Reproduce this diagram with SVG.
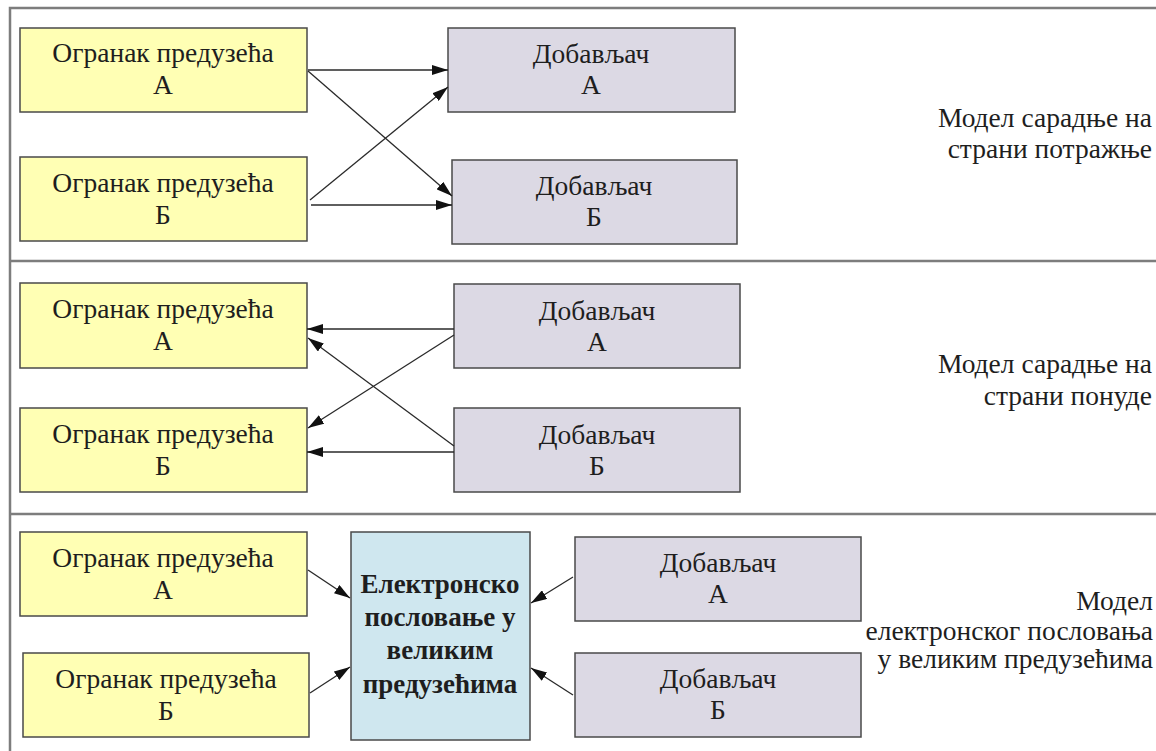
<svg xmlns="http://www.w3.org/2000/svg" width="1156" height="751" viewBox="0 0 1156 751">
  <style>
    .frame { fill: none; stroke: #7d7d7d; stroke-width: 2.5; }
    .box { stroke: #4a4a4a; stroke-width: 1.5; }
    .branch { fill: #ffffb4; }
    .supplier { fill: #dcd9e4; }
    .hub { fill: #cfe7ef; }
    text { font-family: "Liberation Serif", "Times New Roman", serif; font-size: 27.5px; fill: #1e1e1e; }
    .c { text-anchor: middle; }
    .r { text-anchor: end; }
    .b { font-weight: bold; font-size: 27px; }
    .conn line { stroke: #2a2a2a; stroke-width: 1.3; marker-end: url(#arrow); }
  </style>
  <defs>
    <marker id="arrow" viewBox="0 0 16 10" refX="16" refY="5" markerWidth="16" markerHeight="10" markerUnits="userSpaceOnUse" orient="auto">
      <path d="M0,0 L16,5 L0,10 Z" fill="#111"/>
    </marker>
  </defs>

  <rect width="1156" height="751" fill="#ffffff"/>

  <!-- outer frame and section dividers -->
  <g id="frame">
    <polyline class="frame" points="10,760 10,8 1160,8"/>
    <line class="frame" x1="10" y1="261" x2="1160" y2="261"/>
    <line class="frame" x1="10" y1="514" x2="1160" y2="514"/>
  </g>

  <!-- section 1: demand side -->
  <g id="s1-branch-a">
    <rect class="box branch" x="20" y="28" width="287" height="84"/>
    <text class="c" x="163" y="62">Огранак предузећа</text>
    <text class="c" x="163" y="94">А</text>
  </g>
  <g id="s1-branch-b">
    <rect class="box branch" x="20" y="157" width="287" height="84"/>
    <text class="c" x="163" y="192">Огранак предузећа</text>
    <text class="c" x="163" y="224">Б</text>
  </g>
  <g id="s1-supplier-a">
    <rect class="box supplier" x="448" y="28" width="287" height="84"/>
    <text class="c" x="591" y="63">Добављач</text>
    <text class="c" x="591" y="94">А</text>
  </g>
  <g id="s1-supplier-b">
    <rect class="box supplier" x="452" y="160" width="285" height="84"/>
    <text class="c" x="594" y="195">Добављач</text>
    <text class="c" x="594" y="226">Б</text>
  </g>
  <g id="s1-label">
    <text class="r" x="1152" y="127">Модел сарадње на</text>
    <text class="r" x="1152" y="158">страни потражње</text>
  </g>

  <!-- section 2: supply side -->
  <g id="s2-branch-a">
    <rect class="box branch" x="20" y="283" width="287" height="85"/>
    <text class="c" x="163" y="318">Огранак предузећа</text>
    <text class="c" x="163" y="350">А</text>
  </g>
  <g id="s2-branch-b">
    <rect class="box branch" x="20" y="408" width="287" height="84"/>
    <text class="c" x="163" y="443">Огранак предузећа</text>
    <text class="c" x="163" y="475">Б</text>
  </g>
  <g id="s2-supplier-a">
    <rect class="box supplier" x="454" y="284" width="286" height="84"/>
    <text class="c" x="597" y="320">Добављач</text>
    <text class="c" x="597" y="351">А</text>
  </g>
  <g id="s2-supplier-b">
    <rect class="box supplier" x="454" y="408" width="286" height="84"/>
    <text class="c" x="597" y="444">Добављач</text>
    <text class="c" x="597" y="475">Б</text>
  </g>
  <g id="s2-label">
    <text class="r" x="1152" y="373">Модел сарадње на</text>
    <text class="r" x="1152" y="405">страни понуде</text>
  </g>

  <!-- section 3: e-business hub -->
  <g id="s3-branch-a">
    <rect class="box branch" x="20" y="532" width="287" height="84"/>
    <text class="c" x="163" y="567">Огранак предузећа</text>
    <text class="c" x="163" y="599">А</text>
  </g>
  <g id="s3-branch-b">
    <rect class="box branch" x="23" y="653" width="286" height="84"/>
    <text class="c" x="166" y="688">Огранак предузећа</text>
    <text class="c" x="166" y="720">Б</text>
  </g>
  <g id="s3-hub">
    <rect class="box hub" x="351" y="532" width="179" height="208"/>
    <text class="c b" x="440" y="593">Електронско</text>
    <text class="c b" x="440" y="626">пословање у</text>
    <text class="c b" x="440" y="659">великим</text>
    <text class="c b" x="440" y="693">предузећима</text>
  </g>
  <g id="s3-supplier-a">
    <rect class="box supplier" x="575" y="537" width="286" height="84"/>
    <text class="c" x="718" y="572">Добављач</text>
    <text class="c" x="718" y="603">А</text>
  </g>
  <g id="s3-supplier-b">
    <rect class="box supplier" x="575" y="653" width="286" height="84"/>
    <text class="c" x="718" y="688">Добављач</text>
    <text class="c" x="718" y="719">Б</text>
  </g>
  <g id="s3-label">
    <text class="r" x="1153" y="610">Модел</text>
    <text class="r" x="1153" y="640">електронског пословања</text>
    <text class="r" x="1153" y="668">у великим предузећима</text>
  </g>

  <!-- connectors -->
  <g id="connectors" class="conn">
    <line x1="308" y1="70" x2="448" y2="70"/>
    <line x1="308" y1="71" x2="452" y2="196"/>
    <line x1="310" y1="200" x2="448" y2="87"/>
    <line x1="311" y1="205" x2="452" y2="205"/>

    <line x1="454" y1="329" x2="307" y2="329"/>
    <line x1="454" y1="335" x2="308" y2="428"/>
    <line x1="454" y1="446" x2="308" y2="338"/>
    <line x1="454" y1="452" x2="307" y2="452"/>

    <line x1="308" y1="570" x2="350" y2="598"/>
    <line x1="310" y1="693" x2="350" y2="667"/>
    <line x1="573" y1="577" x2="531" y2="603"/>
    <line x1="573" y1="695" x2="531" y2="668"/>
  </g>
</svg>
